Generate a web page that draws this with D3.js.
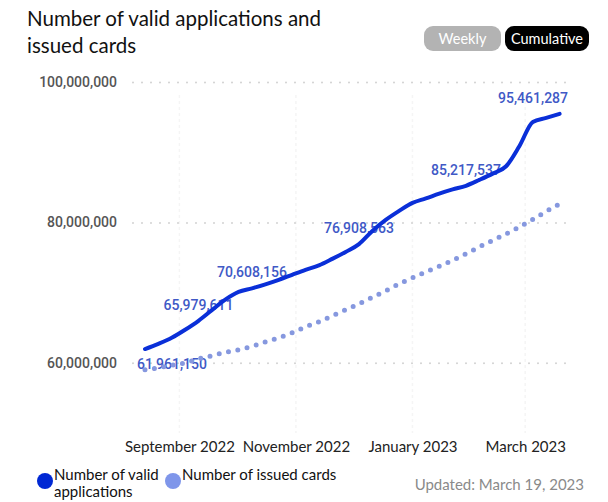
<!DOCTYPE html>
<html>
<head>
<meta charset="utf-8">
<script src="https://cdn.jsdelivr.net/npm/d3@7"></script>
<style>
  html, body { margin: 0; padding: 0; background: #fff; }
  svg { display: block; }
</style>
</head>
<body>
<svg id="chart" width="608" height="502"></svg>
<script>
// Weekly cumulative totals, Aug 14 2022 – Mar 19 2023
const weeks = [
  "2022-08-14","2022-08-21","2022-08-28","2022-09-04","2022-09-11","2022-09-18","2022-09-25",
  "2022-10-02","2022-10-09","2022-10-16","2022-10-23","2022-10-30","2022-11-06","2022-11-13",
  "2022-11-20","2022-11-27","2022-12-04","2022-12-11","2022-12-18","2022-12-25","2023-01-01",
  "2023-01-08","2023-01-15","2023-01-22","2023-01-29","2023-02-05","2023-02-12","2023-02-19",
  "2023-02-26","2023-03-05","2023-03-12","2023-03-19"
];

const validApplications = [
  61961150, 62700000, 63560000, 64700000, 65979611, 67500000, 69000000,
  70100000, 70608156, 71170000, 71810000, 72530000, 73240000, 73880000,
  74800000, 75800000, 76908563, 78790000, 80360000, 81640000, 82780000,
  83420000, 84100000, 84700000, 85217537, 86050000, 86950000, 88000000,
  90890000, 94310000, 94880000, 95461287
];

const issuedCards = [
  59000000, 59290000, 59640000, 60000000, 60570000, 61000000, 61490000,
  61850000, 62350000, 62990000, 63560000, 64270000, 65120000, 65840000,
  66690000, 67540000, 68400000, 69320000, 70250000, 71250000, 72100000,
  72950000, 73740000, 74590000, 75520000, 76510000, 77440000, 78360000,
  79360000, 80430000, 81570000, 82630000
];

// Weeks whose value is printed beside the line
const labelledWeeks = [0, 4, 8, 16, 24, 31];

const yTicks = [60000000, 80000000, 100000000];
const monthTicks = ["2022-09-01", "2022-11-01", "2023-01-01", "2023-03-01"];
const monthLabels = ["September 2022", "November 2022", "January 2023", "March 2023"];

const titleLines = ["Number of valid applications and", "issued cards"];
const seriesNames = ["Number of valid\napplications", "Number of issued cards"];
const updatedText = "Updated: March 19, 2023";

const parse = d3.timeParse("%Y-%m-%d");
const dates = weeks.map(parse);

const svg = d3.select("#chart");
const uiFont = "Lato, 'Open Sans', sans-serif";
const numFont = "Roboto, 'DejaVu Sans', sans-serif";

const plot = { left: 133, right: 571, top: 82, bottom: 433 };

const x = d3.scaleTime()
  .domain([dates[0], dates[dates.length - 1]])
  .range([145, 559.6]);

const y = d3.scaleLinear()
  .domain([50000000, 100000000])
  .range([plot.bottom, plot.top]);

// Title
svg.append("text")
  .attr("x", 27).attr("y", 26)
  .attr("font-family", uiFont).attr("font-size", 20.5).attr("fill", "#111")
  .selectAll("tspan").data(titleLines).join("tspan")
  .attr("x", 27).attr("dy", (d, i) => i === 0 ? 0 : 27)
  .text(d => d);

// Toggle buttons
const buttons = [
  { text: "Weekly", x: 424, w: 77, fill: "#b3b3b3" },
  { text: "Cumulative", x: 505, w: 84, fill: "#000" }
];
const btn = svg.append("g").selectAll("g").data(buttons).join("g");
btn.append("rect")
  .attr("x", d => d.x).attr("y", 26).attr("width", d => d.w).attr("height", 25)
  .attr("rx", 9).attr("fill", d => d.fill);
btn.append("text")
  .attr("x", d => d.x + d.w / 2).attr("y", 44)
  .attr("text-anchor", "middle")
  .attr("font-family", uiFont).attr("font-size", 14.5).attr("fill", "#fff")
  .text(d => d.text);

// Faint monthly guides
svg.append("g").selectAll("line").data(monthTicks.map(parse)).join("line")
  .attr("x1", d => x(d)).attr("x2", d => x(d))
  .attr("y1", 95).attr("y2", plot.bottom)
  .attr("stroke", "#f5f5f5").attr("stroke-width", 1.5)
  .attr("stroke-dasharray", "3 3");

// Y axis with dotted gridlines
const yAxis = svg.append("g")
  .attr("transform", `translate(${plot.left},0)`)
  .call(d3.axisLeft(y).tickValues(yTicks).tickSize(-(plot.right - plot.left)).tickPadding(16)
    .tickFormat(d3.format(",")));
yAxis.select(".domain").remove();
yAxis.selectAll(".tick line")
  .attr("stroke", "#d2d2d2").attr("stroke-width", 2)
  .attr("stroke-linecap", "round").attr("stroke-dasharray", "0 9");
yAxis.selectAll(".tick text")
  .attr("font-family", numFont).attr("font-size", 14).attr("font-weight", 500)
  .attr("fill", "#555");

// X axis month labels
const xAxis = svg.append("g")
  .attr("transform", `translate(0,${plot.bottom})`)
  .call(d3.axisBottom(x).tickValues(monthTicks.map(parse)).tickSize(0).tickPadding(8)
    .tickFormat((d, i) => monthLabels[i]));
xAxis.select(".domain").remove();
xAxis.selectAll(".tick text")
  .attr("font-family", uiFont).attr("font-size", 15).attr("fill", "#222");

// Value labels (drawn beneath the lines)
const fmt = d3.format(",");
const labelLayer = svg.append("g");
labelLayer.selectAll("text").data(labelledWeeks).join("text")
  .attr("font-family", numFont).attr("font-size", 14).attr("font-weight", 500)
  .attr("fill", "#4059c6").attr("text-anchor", "middle")
  .attr("dominant-baseline", "central")
  .attr("x", i => x(dates[i]))
  .attr("y", i => y(validApplications[i]) + (i === 0 ? 15 : -16))
  .text(i => fmt(validApplications[i]))
  .each(function () {
    const w = this.getComputedTextLength();
    const cx = +this.getAttribute("x");
    const clamped = Math.min(Math.max(cx, 137 + w / 2), 568 - w / 2);
    this.setAttribute("x", clamped);
  });

// Lines
const lineValid = d3.line()
  .x((d, i) => x(dates[i])).y(d => y(d))
  .curve(d3.curveMonotoneX);

svg.append("path")
  .datum(issuedCards)
  .attr("d", lineValid)
  .attr("fill", "none")
  .attr("stroke", "#8698df").attr("stroke-width", 5)
  .attr("stroke-linecap", "round").attr("stroke-dasharray", "0 9.5");

svg.append("path")
  .datum(validApplications)
  .attr("d", lineValid)
  .attr("fill", "none")
  .attr("stroke", "#0a2fd8").attr("stroke-width", 4)
  .attr("stroke-linecap", "round").attr("stroke-linejoin", "round");

// Legend
const legend = svg.append("g");
const legendItems = [
  { name: seriesNames[0], cx: 45, color: "#0028d4" },
  { name: seriesNames[1], cx: 173, color: "#7f96ea" }
];
legendItems.forEach(it => {
  legend.append("circle").attr("cx", it.cx).attr("cy", 481).attr("r", 8).attr("fill", it.color);
  const t = legend.append("text")
    .attr("font-family", uiFont).attr("font-size", 15).attr("fill", "#111");
  it.name.split("\n").forEach((ln, k) => {
    t.append("tspan").attr("x", it.cx + 9).attr("y", 480 + k * 17).text(ln);
  });
});

svg.append("text")
  .attr("x", 584).attr("y", 490).attr("text-anchor", "end")
  .attr("font-family", uiFont).attr("font-size", 15).attr("fill", "#8a8a8a")
  .text(updatedText);
</script>
</body>
</html>
